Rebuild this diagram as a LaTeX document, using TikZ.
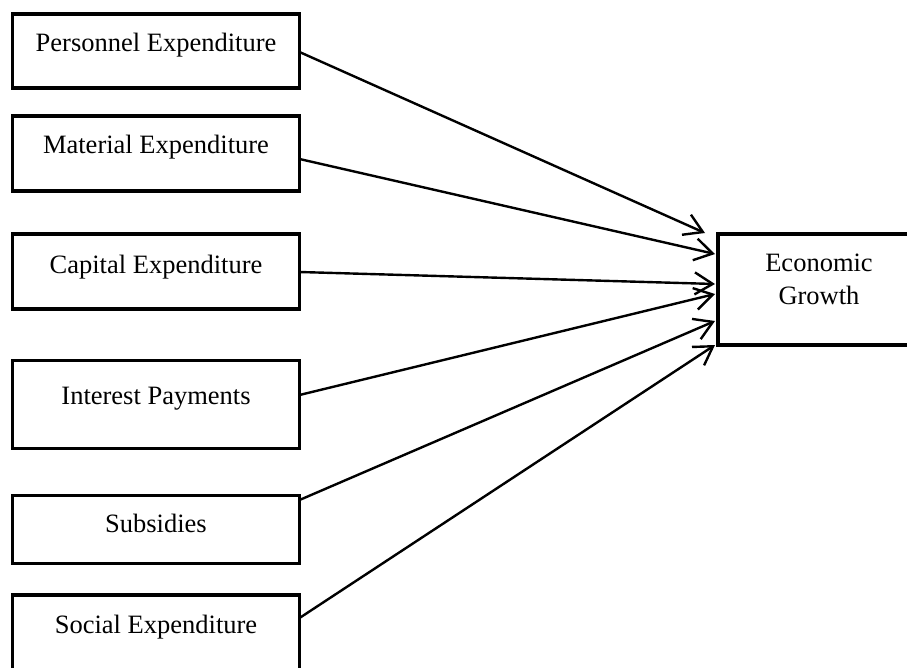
\documentclass[tikz,border=0pt]{standalone}
\usepackage{fontspec}
\setmainfont{Liberation Serif}
\usetikzlibrary{arrows.meta}
\tikzset{
  box/.style={draw=black, line width=3.2pt, rectangle, inner sep=0pt, outer sep=0pt, anchor=north west, fill=white},
  lbl/.style={font=\fontsize{26.5}{33}\selectfont, inner sep=0pt, anchor=base, align=center},
  conn/.style={line width=2.4pt, -{Straight Barb[length=18pt,width=22pt,line width=2.4pt]}}
}
\begin{document}
\begin{tikzpicture}[x=1pt,y=-1pt]
\clip (0,0) rectangle (907,668);
\fill[white] (0,0) rectangle (907,668);
% boxes
\node[box, minimum width=287pt, minimum height=74pt] (b1) at (12.5,14) {};
\node[box, minimum width=287pt, minimum height=75pt] (b2) at (12.5,116) {};
\node[box, minimum width=287pt, minimum height=75pt] (b3) at (12.5,234) {};
\node[box, minimum width=287pt, minimum height=88pt] (b4) at (12.5,360.5) {};
\node[box, minimum width=287pt, minimum height=68pt] (b5) at (12.5,495.5) {};
\node[box, minimum width=287pt, minimum height=90pt] (b6) at (12.5,595) {};
\node[box, minimum width=202pt, minimum height=111pt] (eg) at (718,234) {};
% labels
\node[lbl] (t1) at (156,52) {Personnel Expenditure};
\node[lbl] (t2) at (156,154) {Material Expenditure};
\node[lbl] (t3) at (156,273) {Capital Expenditure};
\node[lbl] (t4) at (156,404) {Interest Payments};
\node[lbl] (t5) at (156,532) {Subsidies};
\node[lbl] (t6) at (156,633) {Social Expenditure};
\node[lbl] (t7) at (819,272) {Economic};
\node[lbl] (t8) at (819,305) {Growth};
% connector endpoints
\coordinate (s1) at (b1.east |- 0,52);
\coordinate (s2) at (b2.east |- 0,159);
\coordinate (s3) at (b3.east |- 0,272);
\coordinate (s4) at (b4.east |- 0,395);
\coordinate (s5) at (b5.east |- 0,500);
\coordinate (s6) at (b6.east |- 0,618);
\coordinate (e1) at (705,233);
\coordinate (e2) at (715,254);
\coordinate (e3) at (715,284);
\coordinate (e4) at (715,294);
\coordinate (e5) at (715,321);
\coordinate (e6) at (715,345);
\draw[conn] (s1) -- (e1);
\draw[conn] (s2) -- (e2);
\draw[conn] (s3) -- (e3);
\draw[conn] (s4) -- (e4);
\draw[conn] (s5) -- (e5);
\draw[conn] (s6) -- (e6);
\end{tikzpicture}
\end{document}
